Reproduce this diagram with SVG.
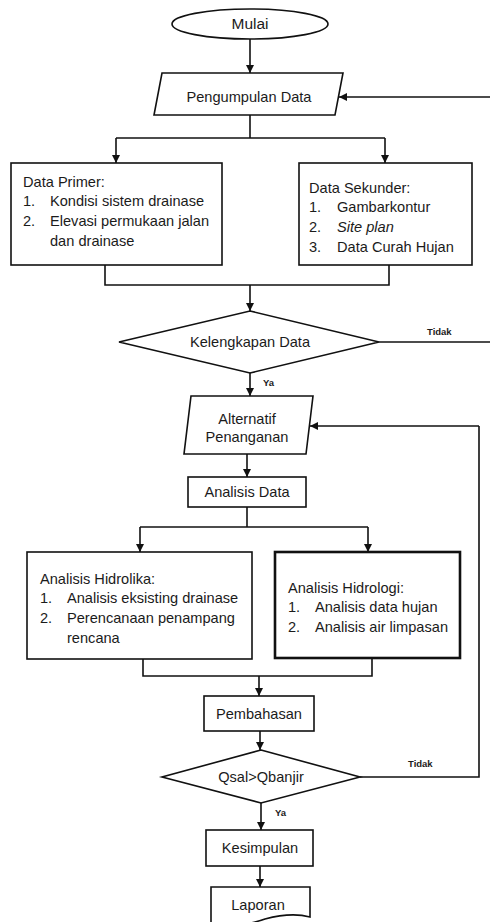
<svg xmlns="http://www.w3.org/2000/svg" width="490" height="922" viewBox="0 0 490 922">
<defs>
<style>
.shape{fill:#fff;stroke:#111;stroke-width:1.6}
.thick{stroke-width:2.6}
.ln{fill:none;stroke:#111;stroke-width:1.6}
.t{font-family:"Liberation Sans",Arial,sans-serif;font-size:14.6px;fill:#1b1b1b}
.c{text-anchor:middle}
.s{font-family:"Liberation Sans",Arial,sans-serif;font-size:9.5px;fill:#1b1b1b;font-weight:bold}
</style>
<marker id="arr" viewBox="0 0 10 10" refX="10" refY="5" markerWidth="8" markerHeight="8" markerUnits="userSpaceOnUse" orient="auto">
<path d="M0,0 L10,5 L0,10 z" fill="#111"/>
</marker>
</defs>
<rect width="490" height="922" fill="#fff"/>

<g id="connectors">
<line class="ln" x1="250" y1="39" x2="250" y2="73" marker-end="url(#arr)"/>
<line class="ln" x1="490" y1="97" x2="339" y2="97" marker-end="url(#arr)"/>
<polyline class="ln" points="250,115 250,138"/>
<polyline class="ln" points="116,138 385,138"/>
<line class="ln" x1="116" y1="138" x2="116" y2="163" marker-end="url(#arr)"/>
<line class="ln" x1="385" y1="138" x2="385" y2="163" marker-end="url(#arr)"/>
<polyline class="ln" points="105,265 105,285 389,285 389,265"/>
<line class="ln" x1="250" y1="285" x2="250" y2="311" marker-end="url(#arr)"/>
<line class="ln" x1="379" y1="342" x2="490" y2="342"/>
<line class="ln" x1="250" y1="373" x2="250" y2="396" marker-end="url(#arr)"/>
<line class="ln" x1="247" y1="454" x2="247" y2="477" marker-end="url(#arr)"/>
<polyline class="ln" points="247,507 247,527"/>
<polyline class="ln" points="140,527 368,527"/>
<line class="ln" x1="140" y1="527" x2="140" y2="552" marker-end="url(#arr)"/>
<line class="ln" x1="368" y1="527" x2="368" y2="552" marker-end="url(#arr)"/>
<polyline class="ln" points="143,659 143,676 372,676 372,658"/>
<line class="ln" x1="259" y1="676" x2="259" y2="696" marker-end="url(#arr)"/>
<line class="ln" x1="260" y1="731" x2="260" y2="750" marker-end="url(#arr)"/>
<polyline class="ln" points="360,777 479,777 479,426" />
<line class="ln" x1="479" y1="426" x2="310" y2="426" marker-end="url(#arr)"/>
<line class="ln" x1="261" y1="803" x2="261" y2="830" marker-end="url(#arr)"/>
<line class="ln" x1="260" y1="866" x2="260" y2="887" marker-end="url(#arr)"/>
<text class="s" x="427" y="335">Tidak</text>
<text class="s" x="263" y="386">Ya</text>
<text class="s" x="408" y="767">Tidak</text>
<text class="s" x="275" y="816">Ya</text>
</g>

<g id="mulai">
<ellipse class="shape" cx="250" cy="24" rx="78" ry="15"/>
<text class="t c" x="250" y="29" style="font-size:15.5px">Mulai</text>
</g>

<g id="pengumpulan">
<polygon class="shape" points="162,73 343,73 335,115 154,115"/>
<text class="t c" x="249" y="102">Pengumpulan Data</text>
</g>

<g id="data-primer">
<rect class="shape" x="11" y="163" width="211" height="102"/>
<text class="t" x="23" y="187">Data Primer:</text>
<text class="t" x="23" y="206">1.</text>
<text class="t" x="50" y="206">Kondisi sistem drainase</text>
<text class="t" x="23" y="226">2.</text>
<text class="t" x="50" y="226">Elevasi permukaan jalan</text>
<text class="t" x="50" y="246">dan drainase</text>
</g>

<g id="data-sekunder">
<rect class="shape" x="299" y="163" width="173" height="102"/>
<text class="t" x="309" y="193">Data Sekunder:</text>
<text class="t" x="309" y="212">1.</text>
<text class="t" x="337" y="212">Gambarkontur</text>
<text class="t" x="309" y="232">2.</text>
<text class="t" x="337" y="232" font-style="italic">Site plan</text>
<text class="t" x="309" y="252">3.</text>
<text class="t" x="337" y="252">Data Curah Hujan</text>
</g>

<g id="kelengkapan">
<polygon class="shape" points="250,311 379,342 250,373 119,342"/>
<text class="t c" x="250" y="347">Kelengkapan Data</text>
</g>

<g id="alternatif">
<polygon class="shape" points="191,396 313,396 306,454 184,454"/>
<text class="t c" x="247" y="424">Alternatif</text>
<text class="t c" x="247" y="442">Penanganan</text>
</g>

<g id="analisis-data">
<rect class="shape" x="188" y="477" width="118" height="30"/>
<text class="t c" x="247" y="497">Analisis Data</text>
</g>

<g id="hidrolika">
<rect class="shape" x="27" y="552" width="225" height="107"/>
<text class="t" x="40" y="584">Analisis Hidrolika:</text>
<text class="t" x="40" y="603">1.</text>
<text class="t" x="67" y="603">Analisis eksisting drainase</text>
<text class="t" x="40" y="623">2.</text>
<text class="t" x="67" y="623">Perencanaan penampang</text>
<text class="t" x="67" y="643">rencana</text>
</g>

<g id="hidrologi">
<rect class="shape thick" x="275" y="552" width="185" height="106"/>
<text class="t" x="288" y="593">Analisis Hidrologi:</text>
<text class="t" x="288" y="612">1.</text>
<text class="t" x="315" y="612">Analisis data hujan</text>
<text class="t" x="288" y="632">2.</text>
<text class="t" x="315" y="632">Analisis air limpasan</text>
</g>

<g id="pembahasan">
<rect class="shape" x="204" y="696" width="110" height="35"/>
<text class="t c" x="259" y="719">Pembahasan</text>
</g>

<g id="qsal">
<polygon class="shape" points="261,750 360,777 261,803 162,777"/>
<text class="t c" x="261" y="782">Qsal&gt;Qbanjir</text>
</g>

<g id="kesimpulan">
<rect class="shape" x="206" y="830" width="107" height="36"/>
<text class="t c" x="260" y="853">Kesimpulan</text>
</g>

<g id="laporan">
<path class="shape" d="M211,926 V887 H310 V917 C295,913 280,915 265,919 C250,924 230,928 211,926 Z"/>
<text class="t c" x="258" y="910">Laporan</text>
</g>
</svg>
